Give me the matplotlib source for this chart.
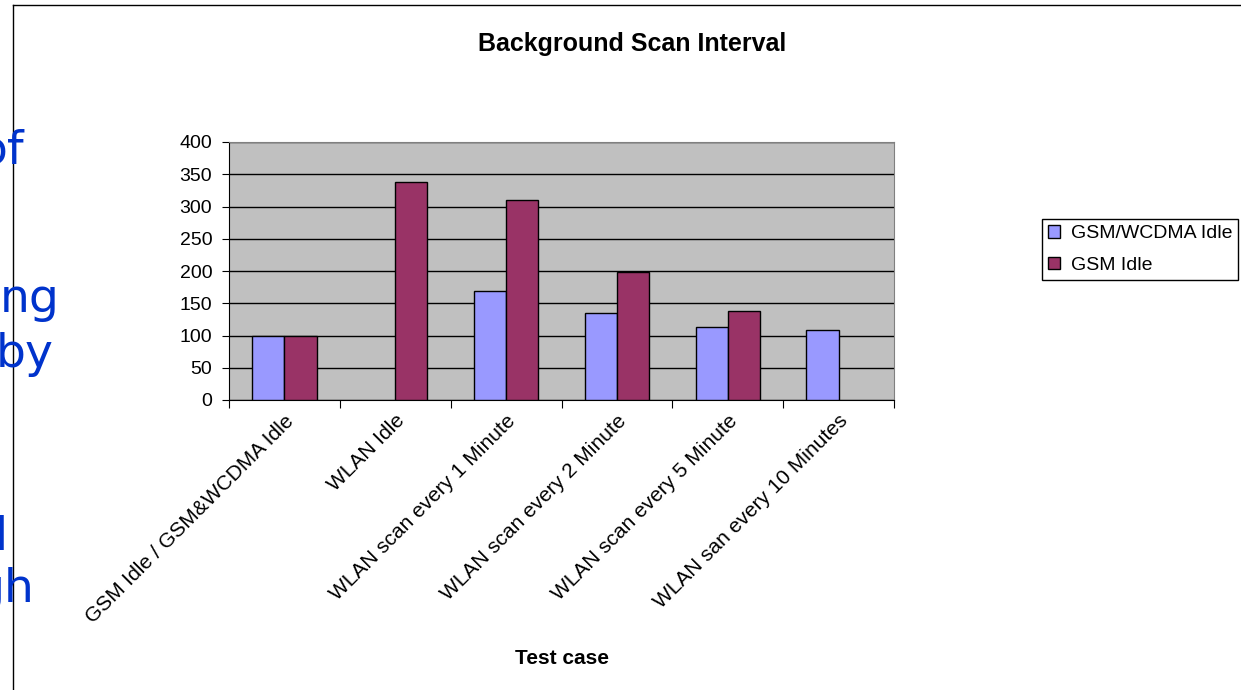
import numpy as np
import matplotlib
matplotlib.use("Agg")
import matplotlib.pyplot as plt
from matplotlib.lines import Line2D

plt.rcParams['font.family'] = ['Liberation Sans', 'DejaVu Sans']

categories = ["GSM Idle / GSM&WCDMA Idle", "WLAN Idle", "WLAN scan every 1 Minute",
              "WLAN scan every 2 Minute", "WLAN scan every 5 Minute", "WLAN san every 10 Minutes"]
gsm_wcdma_idle = [100, np.nan, 169, 135, 113, 108]
gsm_idle = [100, 338, 310, 199, 138, np.nan]
series_names = ["GSM/WCDMA Idle", "GSM Idle"]

W, H = 1241, 690
fig = plt.figure(figsize=(W / 100, H / 100), dpi=100)
ax = fig.add_axes([229 / W, 1 - 400 / H, (894 - 229) / W, (400 - 142) / H])

x = np.arange(len(categories))
bw = 0.29
ax.bar(x - bw / 2, gsm_wcdma_idle, bw, color='#9999FF', edgecolor='black', linewidth=1,
       label=series_names[0], zorder=3)
ax.bar(x + bw / 2, gsm_idle, bw, color='#993366', edgecolor='black', linewidth=1,
       label=series_names[1], zorder=3)

ax.set_facecolor('#C0C0C0')
ax.set_xlim(-0.5, len(categories) - 0.5)
ax.set_ylim(0, 400)
ax.set_yticks(np.arange(0, 401, 50))
ax.yaxis.grid(True, color='black', linewidth=1)
ax.set_axisbelow(True)
ax.tick_params(axis='y', labelsize=14, length=5, pad=7, direction='out')

# category ticks between groups, labels at centers
ax.set_xticks(np.arange(-0.5, len(categories)), minor=False)
ax.set_xticklabels([])
ax.set_xticks(x, minor=True)
ax.set_xticklabels(categories, minor=True, rotation=45, ha='right',
                   rotation_mode='anchor', fontsize=15)
ax.tick_params(axis='x', which='major', length=6)
ax.tick_params(axis='x', which='minor', length=0, pad=8)

for s in ['top', 'right']:
    ax.spines[s].set_color('#808080')
ax.spines['left'].set_color('black')
ax.spines['bottom'].set_color('black')

fig.text(632 / W, 1 - 44 / H, "Background Scan Interval", ha='center', va='center',
         fontsize=18, fontweight='bold')
fig.text(562 / W, 1 - 658 / H, "Test case", ha='center', va='center',
         fontsize=15, fontweight='bold')

fig.legend(loc='upper left', bbox_to_anchor=(1042 / W, 1 - 219 / H), borderaxespad=0,
           fontsize=14, frameon=True, fancybox=False, edgecolor='black', framealpha=1,
           handlelength=0.6, handleheight=0.6, handletextpad=0.55, borderpad=0.32,
           labelspacing=0.75)

# chart area border (clipped)
fig.add_artist(Line2D([13 / W, 13 / W], [0, 1 - 5 / H], color='black', linewidth=1))
fig.add_artist(Line2D([13 / W, 1], [1 - 5 / H, 1 - 5 / H], color='black', linewidth=1))

# fragments of slide text behind the chart
blue = '#0033CC'
for txt, xr, yb in [("of", 24, 163), ("ng", 60, 312), ("by", 54, 367),
                    ("l", 8, 550), ("gh", 34, 602)]:
    fig.text(xr / W, 1 - yb / H, txt, ha='right', va='baseline', fontsize=34,
             color=blue, family=['DejaVu Sans'])

fig.savefig("out.png", dpi=100)
